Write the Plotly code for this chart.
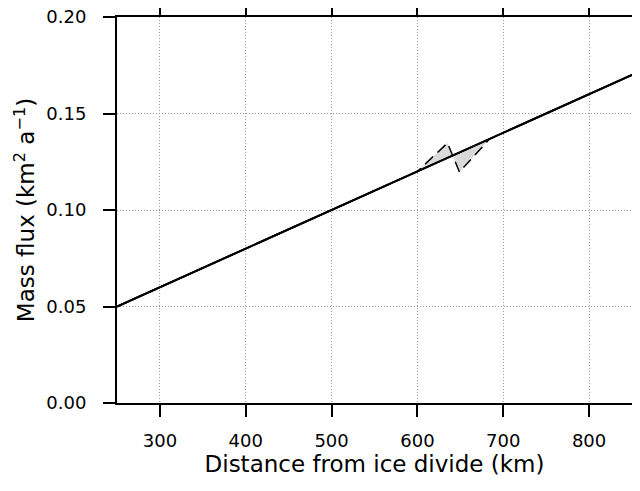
import plotly.graph_objects as go

# Data
ref_x = [250, 850]
ref_flux = [0.05, 0.17]
pert_x = [250, 600, 635, 649, 684, 850]
pert_flux = [0.05, 0.12, 0.1347, 0.1197, 0.1368, 0.17]

fig = go.Figure()
fig.add_trace(go.Scatter(x=ref_x, y=ref_flux, mode="lines",
                         line=dict(color="black", width=2), showlegend=False))
fig.add_trace(go.Scatter(x=pert_x, y=pert_flux, mode="lines",
                         line=dict(color="black", width=1.5, dash="11px,6px"),
                         fill="tonexty", fillcolor="#d9d9d9", showlegend=False))
fig.add_trace(go.Scatter(x=ref_x, y=ref_flux, mode="lines",
                         line=dict(color="black", width=2), showlegend=False))

axis_common = dict(showline=True, linecolor="black", linewidth=2, mirror="allticks",
                   ticks="outside", ticklen=12, tickwidth=1.5, tickcolor="black",
                   showgrid=True, gridcolor="#9a9a9a", griddash="1px,2px", gridwidth=1,
                   zeroline=False, automargin=False, ticklabeloverflow="allow",
                   tickfont=dict(size=18, color="black"))

# page body has an 8px margin, so margins are shifted to compensate
fig.update_layout(
    width=640, height=491,
    margin=dict(l=109, r=16, t=9, b=96),
    plot_bgcolor="white", paper_bgcolor="white",
    font=dict(family="DejaVu Sans, sans-serif", color="black"),
    xaxis=dict(range=[250, 850], tickvals=[300, 400, 500, 600, 700, 800],
               ticklabelstandoff=8,
               title=dict(text="Distance from ice divide (km)", font=dict(size=23), standoff=6),
               **axis_common),
    yaxis=dict(range=[0, 0.2], tickvals=[0, 0.05, 0.10, 0.15, 0.20], tickformat=".2f",
               ticklabelstandoff=13,
               title=dict(text="Mass flux (km<sup>2</sup> a<sup>−1</sup>)", font=dict(size=23), standoff=5),
               **axis_common),
)

fig.write_html("out.html")
